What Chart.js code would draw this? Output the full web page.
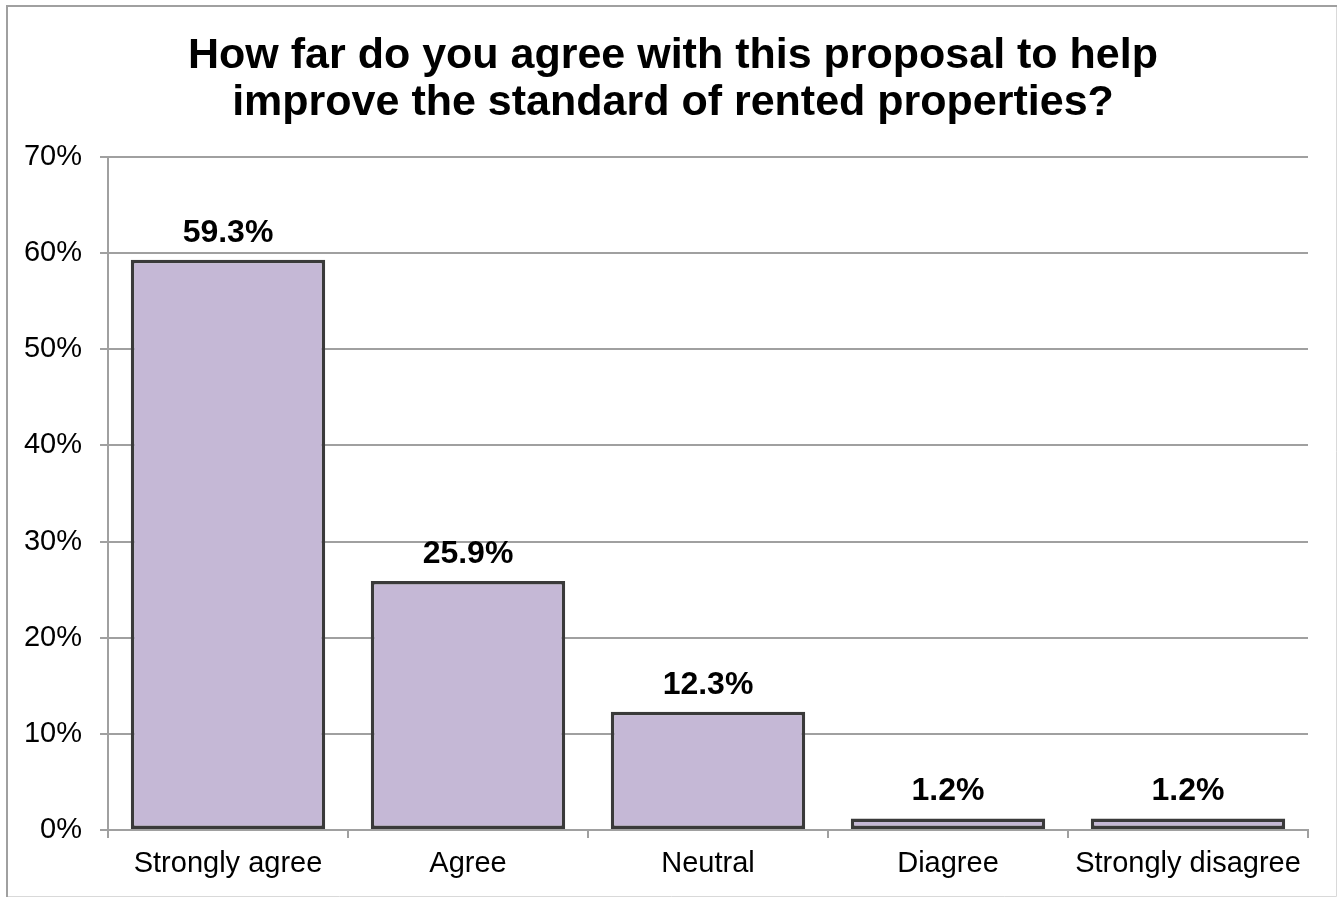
<!DOCTYPE html>
<html>
<head>
<meta charset="utf-8">
<title>Rented properties proposal</title>
<script src="https://cdn.jsdelivr.net/npm/chart.js@4/dist/chart.umd.min.js"></script>
<style>
  html, body { margin: 0; padding: 0; background: #fff; }
  #wrap { position: relative; width: 1337px; height: 897px; }
</style>
</head>
<body>
<div id="wrap"><canvas id="surveyChart"></canvas></div>
<script>
// Survey responses (% of respondents)
const answers = ["Strongly agree", "Agree", "Neutral", "Diagree", "Strongly disagree"];
const shares = [59.3, 25.9, 12.3, 1.2, 1.2];
const titleLines = ["How far do you agree with this proposal to help", "improve the standard of rented properties?"];

const FONT = "'Liberation Sans', Arial, Helvetica, sans-serif";

// Bold value printed above each bar
const valueLabels = {
  id: "valueLabels",
  afterDatasetsDraw(chart) {
    const ctx = chart.ctx;
    const meta = chart.getDatasetMeta(0);
    ctx.save();
    ctx.font = "bold 32px " + FONT;
    ctx.fillStyle = "#000";
    ctx.textAlign = "center";
    ctx.textBaseline = "alphabetic";
    meta.data.forEach((bar, i) => {
      ctx.fillText(shares[i].toFixed(1) + "%", bar.x, bar.y - 18);
    });
    ctx.restore();
  }
};

// Frame round the chart plus the two-line heading
const frameAndHeading = {
  id: "frameAndHeading",
  beforeDraw(chart) {
    const ctx = chart.ctx;
    ctx.save();
    ctx.lineWidth = 1;
    ctx.strokeStyle = "#D9D9D9";
    ctx.beginPath();
    ctx.moveTo(1336.5, 6);
    ctx.lineTo(1336.5, 896.5);
    ctx.lineTo(7, 896.5);
    ctx.stroke();
    ctx.lineWidth = 2;
    ctx.strokeStyle = "#A0A0A0";
    ctx.beginPath();
    ctx.moveTo(7, 897);
    ctx.lineTo(7, 6);
    ctx.lineTo(1337, 6);
    ctx.stroke();

    ctx.font = "bold 43px " + FONT;
    ctx.fillStyle = "#000";
    ctx.textAlign = "center";
    ctx.textBaseline = "alphabetic";
    ctx.fillText(titleLines[0], 673, 68);
    ctx.fillText(titleLines[1], 673, 115);
    ctx.restore();
  }
};

new Chart(document.getElementById("surveyChart").getContext("2d"), {
  type: "bar",
  data: {
    labels: answers,
    datasets: [{
      data: shares,
      backgroundColor: "#C5B8D6",
      borderColor: "#3A3A3A",
      borderWidth: 3.5,
      borderSkipped: false,
      barPercentage: 0.81,
      categoryPercentage: 1
    }]
  },
  options: {
    responsive: true,
    maintainAspectRatio: false,
    animation: false,
    layout: { padding: { top: 157, right: 29, bottom: 0, left: 0 } },
    plugins: {
      legend: { display: false },
      tooltip: { enabled: false },
      title: { display: false }
    },
    scales: {
      x: {
        grid: {
          drawOnChartArea: false,
          drawTicks: true,
          tickLength: 8,
          color: "#A0A0A0",
          lineWidth: 2
        },
        border: { color: "#A0A0A0", width: 2 },
        ticks: {
          color: "#000",
          padding: 9,
          font: { family: FONT, size: 29 },
          maxRotation: 0
        },
        afterFit(scale) { scale.height = 67; }
      },
      y: {
        min: 0,
        max: 70,
        grid: {
          color: "#A0A0A0",
          lineWidth: 2,
          tickLength: 8
        },
        border: { color: "#A0A0A0", width: 2 },
        ticks: {
          stepSize: 10,
          color: "#000",
          padding: 18,
          font: { family: FONT, size: 29 },
          callback: v => v + "%"
        },
        afterFit(scale) { scale.width = 108; }
      }
    }
  },
  plugins: [frameAndHeading, valueLabels]
});
</script>
</body>
</html>
